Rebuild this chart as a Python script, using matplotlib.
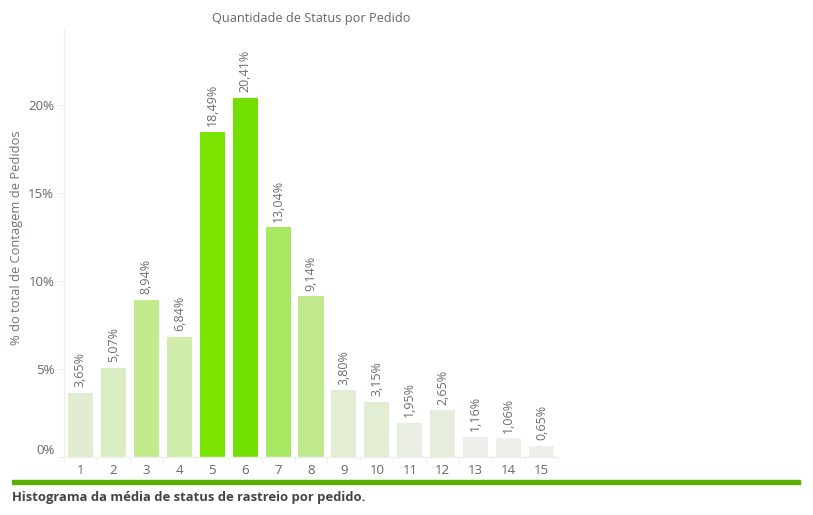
import matplotlib.pyplot as plt
import matplotlib.transforms as mtransforms
import numpy as np

# Dados do histograma
status_count = list(range(1, 16))
pct_pedidos = [3.65, 5.07, 8.94, 6.84, 18.49, 20.41, 13.04, 9.14,
               3.80, 3.15, 1.95, 2.65, 1.16, 1.06, 0.65]
bar_colors = ['#E1EDD1', '#D9EEC3', '#C3EB8E', '#D0EDAC', '#7AE300',
              '#72E000', '#A8E863', '#C1EA8E', '#E3EDD4', '#E2EDD4',
              '#EAEEE2', '#E6EDDA', '#EFEFEB', '#EFEFEB', '#EFEFEC']
y_ticks = [0, 5, 10, 15, 20]

plt.rcParams['font.family'] = ['Open Sans', 'DejaVu Sans']

fig = plt.figure(figsize=(8.13, 5.15), dpi=100)
ax = fig.add_axes([64 / 813, 58 / 515, 494 / 813, 427 / 515])

ax.bar(status_count, pct_pedidos, width=0.76, color=bar_colors)

# rotulos das barras
for x, v in zip(status_count, pct_pedidos):
    ax.annotate(f"{v:.2f}%".replace('.', ','), (x, v), xytext=(0, 4),
                textcoords='offset points', rotation=90, ha='center',
                va='bottom', fontsize=9, color='#6E6E6E')

ax.set_xlim(0.5, 15.5)
ax.set_ylim(0, 24.26)
ax.set_xticks(status_count)
ax.set_xticklabels([str(s) for s in status_count])
ax.set_xticks(np.arange(0.5, 16, 1), minor=True)
ax.set_yticks(y_ticks)
ax.set_yticklabels([f"{t}%" for t in y_ticks])

ax.tick_params(axis='x', which='major', length=0, pad=5, labelsize=9.5,
               labelcolor='#666666')
ax.tick_params(axis='x', which='minor', length=4, color='#EEEEEE')
ax.tick_params(axis='y', length=4, color='#EEEEEE', pad=3, labelsize=9.5,
               labelcolor='#666666')

# o rotulo 0% fica um pouco acima da base
zero_lbl = ax.get_yticklabels()[0]
zero_lbl.set_transform(zero_lbl.get_transform() +
                       mtransforms.ScaledTranslation(0, 8 / 100,
                                                     fig.dpi_scale_trans))

for side in ['top', 'right']:
    ax.spines[side].set_visible(False)
for side in ['left', 'bottom']:
    ax.spines[side].set_color('#EEEEEE')
    ax.spines[side].set_linewidth(1)

ax.set_title("Quantidade de Status por Pedido", fontsize=9.2,
             color='#666666', pad=6)
fig.text(17 / 813, 1 - 238 / 515, "% do total de Contagem de Pedidos",
         rotation=90, ha='center', va='center', fontsize=9.3,
         color='#7A6F6F')

# barra verde e legenda inferior
fig.patches.append(plt.Rectangle((12 / 813, 1 - 484 / 515), 788 / 813,
                                 4 / 515, transform=fig.transFigure,
                                 color='#5CAF00'))
fig.text(12 / 813, 1 - 497 / 515,
         "Histograma da média de status de rastreio por pedido.",
         ha='left', va='center', fontsize=9.4, fontweight='bold',
         color='#444444')

fig.savefig("out.png", dpi=100)
